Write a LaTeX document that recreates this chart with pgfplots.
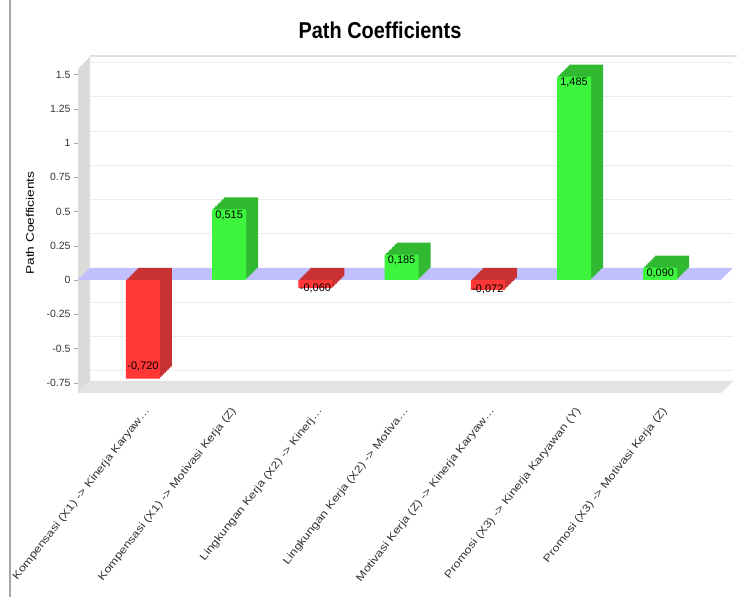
\documentclass[border=0pt]{standalone}
\usepackage{pgfplots}
\pgfplotsset{compat=1.18}
\usepackage{fontspec}
\setmainfont{Liberation Sans}
\definecolor{gfront}{RGB}{60,245,60}
\definecolor{gside}{RGB}{50,185,50}
\definecolor{rfront}{RGB}{255,55,55}
\definecolor{rside}{RGB}{200,50,50}
\definecolor{band}{RGB}{192,192,255}
\begin{document}
\begin{tikzpicture}
\useasboundingbox (0,0) rectangle (737bp,597bp);
\fill[white] (0,0) rectangle (737bp,597bp);
\draw[gray!70, line width=1.2bp] (10bp,0) -- (10bp,597bp);
% left wall
\fill[gray!28] (78bp,204bp) -- (78bp,528bp) -- (90bp,540bp) -- (90bp,216bp) -- cycle;
% floor
\fill[gray!22] (78bp,204bp) -- (721bp,204bp) -- (733bp,216bp) -- (90bp,216bp) -- cycle;
\draw[gray!25, line width=2bp] (90bp,541bp) -- (737bp,541bp);
\node[font=\fontsize{20}{24}\selectfont\bfseries, yscale=1.15] at (380bp,567bp) {Path Coefficients};
\node[font=\fontsize{11}{13}\selectfont, rotate=90, xscale=1.25] at (30bp,374bp) {Path Coefficients};
\begin{axis}[
  at={(78bp,204bp)}, anchor=south west,
  scale only axis, width=643bp, height=324bp,
  xmin=-0.754, xmax=6.705, ymin=-0.825, ymax=1.54,
  clip=false,
  axis lines*=left,
  axis line style={draw=none},
  xtick={0,1,2,3,4,5,6},
  xticklabels={
    {Kompensasi (X1) -> Kinerja Karyaw\ldots},
    {Kompensasi (X1) -> Motivasi Kerja (Z)},
    {Lingkungan Kerja (X2) -> Kinerj\ldots},
    {Lingkungan Kerja (X2) -> Motiva\ldots},
    {Motivasi Kerja (Z) -> Kinerja Karyaw\ldots},
    {Promosi (X3) -> Kinerja Karyawan (Y)},
    {Promosi (X3) -> Motivasi Kerja (Z)}},
  xtick style={draw=none},
  xticklabel style={font=\fontsize{10.5}{11}\selectfont, xshift=5bp, yshift=-12bp, rotate=52, anchor=east, xscale=1.22, inner sep=0pt, text=black!80},
  ytick={-0.75,-0.5,-0.25,0,0.25,0.5,0.75,1,1.25,1.5},
  yticklabels={-0.75,-0.5,-0.25,0,0.25,0.5,0.75,1,1.25,1.5},
  yticklabel style={font=\fontsize{10.5}{12}\selectfont, text=black!80},
  ytick style={draw=gray!70},
  tick align=outside, major tick length=4bp,
  ymajorgrids,
  major grid style={draw=gray!15, line width=0.8bp, xshift=12bp, yshift=12bp},
  /pgf/number format/assume math mode=true,
]
\fill[band] (axis cs:-0.754,0) -- (axis cs:6.705,0) -- ([shift={(12bp,12bp)}]axis cs:6.705,0) -- ([shift={(12bp,12bp)}]axis cs:-0.754,0) -- cycle;
\pgfplotsinvokeforeach{1.5,3,4.5,6,7.5,9,10.5,12}{
\addplot[ybar, bar width=34bp, bar shift=0pt, fill=gside, draw=none, transform canvas={shift={(#1bp,#1bp)}}] coordinates {(1,0.515) (3,0.185) (5,1.485) (6,0.090)};
\addplot[ybar, bar width=34bp, bar shift=0pt, fill=rside, draw=none, transform canvas={shift={(#1bp,#1bp)}}] coordinates {(0,-0.720) (2,-0.060) (4,-0.072)};
}
\addplot[ybar, bar width=34bp, bar shift=0pt, fill=gfront, draw=none,
  nodes near coords, point meta=y,
  nodes near coords style={anchor=center, yshift=-6bp, font=\fontsize{11}{12}\selectfont, text=black,
    /pgf/number format/.cd, use comma, fixed, fixed zerofill, precision=3, assume math mode=true}]
  coordinates {(1,0.515) (3,0.185) (5,1.485) (6,0.090)};
\addplot[ybar, bar width=34bp, bar shift=0pt, fill=rfront, draw=none,
  nodes near coords, point meta=y,
  visualization depends on={ifthenelse(y<-0.3,12,0) \as \lshift},
  nodes near coords style={anchor=center, yshift=\lshift bp, font=\fontsize{11}{12}\selectfont, text=black,
    /pgf/number format/.cd, use comma, fixed, fixed zerofill, precision=3, assume math mode=true}]
  coordinates {(0,-0.720) (2,-0.060) (4,-0.072)};
\end{axis}
\end{tikzpicture}
\end{document}
